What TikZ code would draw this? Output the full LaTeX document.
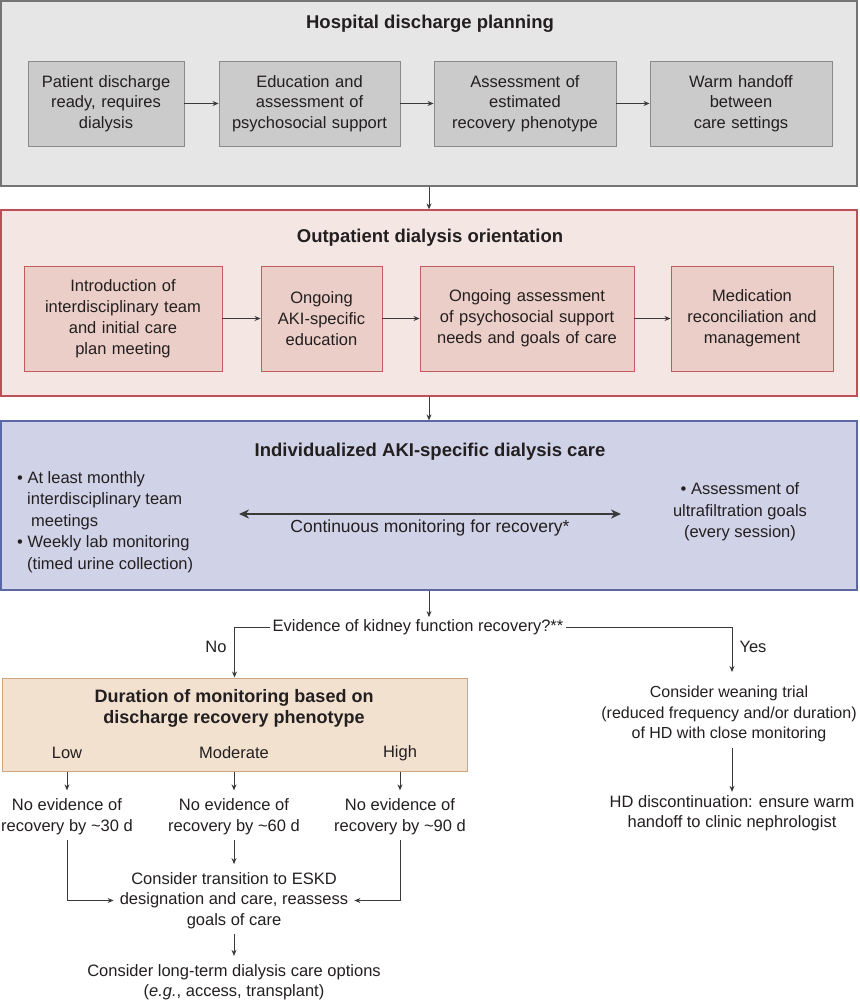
\documentclass[tikz,border=0pt]{standalone}
\usepackage{fontspec}
\setmainfont{Liberation Sans}
\usetikzlibrary{arrows.meta}
\definecolor{ink}{HTML}{231F20}
\definecolor{pAfill}{HTML}{E6E6E7}
\definecolor{pAdraw}{HTML}{747474}
\definecolor{bAfill}{HTML}{CBCBCC}
\definecolor{bAdraw}{HTML}{8A8A8A}
\definecolor{pBfill}{HTML}{F4E6E3}
\definecolor{pBdraw}{HTML}{BE4F58}
\definecolor{bBfill}{HTML}{EBCEC7}
\definecolor{bBdraw}{HTML}{C25A60}
\definecolor{pCfill}{HTML}{D0D2E7}
\definecolor{pCdraw}{HTML}{5B68A5}
\definecolor{oBfill}{HTML}{F3E1CF}
\definecolor{oBdraw}{HTML}{CFA47B}
\definecolor{lineC}{HTML}{3A3A3A}
\begin{document}
\begin{tikzpicture}[x=1pt,y=-1pt,
  txt/.style={font=\fontsize{16.5pt}{20.5pt}\selectfont, text=ink, align=center, inner sep=5pt},
  ttl/.style={font=\fontsize{18.5pt}{21pt}\selectfont\bfseries, text=ink, align=center, inner sep=2pt},
  panel/.style={line width=1.3pt, inner sep=0pt},
  boxA/.style={txt, draw=bAdraw, fill=bAfill, line width=0.9pt, minimum height=85pt, inner sep=2pt},
  boxB/.style={font=\fontsize{16.5pt}{21pt}\selectfont, text=ink, align=center, draw=bBdraw, fill=bBfill, line width=0.9pt, minimum height=105pt, inner sep=2pt},
  arr/.style={draw=lineC, line width=0.9pt, -{Stealth[length=6pt,width=5pt]}},
  darr/.style={draw=lineC, line width=2pt, {Stealth[length=10pt,width=9pt]}-{Stealth[length=10pt,width=9pt]}}
]
\useasboundingbox (0,0) rectangle (859,1000);

% ---------- Panel 1
\node[panel, draw=pAdraw, fill=pAfill, minimum width=856pt, minimum height=185pt] (p1) at (429,93.5) {};
\node[ttl] (t1) at (430,24) {Hospital discharge planning};
\node[boxA, minimum width=156pt, text width=150pt] (a1) at (106,103.5) {Patient discharge\\ready, requires\\dialysis};
\node[boxA, minimum width=181pt, text width=175pt] (a2) at (309.5,103.5) {Education and\\assessment of\\psychosocial support};
\node[boxA, minimum width=182pt, text width=176pt] (a3) at (525,103.5) {Assessment of\\estimated\\recovery phenotype};
\node[boxA, minimum width=182pt, text width=176pt] (a4) at (741,103.5) {Warm handoff\\between\\care settings};
\draw[arr] (a1) -- (a2);
\draw[arr] (a2) -- (a3);
\draw[arr] (a3) -- (a4);

% ---------- Panel 2
\node[panel, draw=pBdraw, fill=pBfill, minimum width=856pt, minimum height=186pt] (p2) at (429,303) {};
\node[ttl] (t2) at (430,238) {Outpatient dialysis orientation};
\node[boxB, minimum width=198pt, text width=192pt] (c1) at (123,318.5) {Introduction of\\interdisciplinary team\\and initial care\\plan meeting};
\node[boxB, minimum width=121pt, text width=115pt] (c2) at (321.5,318.5) {Ongoing\\AKI-specific\\education};
\node[boxB, minimum width=214pt, text width=208pt] (c3) at (527,318.5) {Ongoing assessment\\of psychosocial support\\needs and goals of care};
\node[boxB, minimum width=162pt, text width=156pt] (c4) at (752,318.5) {Medication\\reconciliation and\\management};
\draw[arr] (c1) -- (c2);
\draw[arr] (c2) -- (c3);
\draw[arr] (c3) -- (c4);

\draw[arr] (p1.south) -- (p2.north);

% ---------- Panel 3
\node[panel, draw=pCdraw, fill=pCfill, minimum width=856pt, minimum height=169pt] (p3) at (429,505.5) {};
\node[ttl] (t3) at (430,452) {Individualized AKI-specific dialysis care};
\node[txt, font=\fontsize{16.5pt}{21.5pt}\selectfont, align=left, anchor=west, inner sep=0pt] (bl) at (17,522)
  {• At least monthly\\\hspace*{10pt}interdisciplinary team\\\hspace*{14pt}meetings\\• Weekly lab monitoring\\\hspace*{10pt}(timed urine collection)};
\node[txt, font=\fontsize{16.5pt}{21.5pt}\selectfont] (rl) at (740,512) {• Assessment of\\ultrafiltration goals\\(every session)};
\coordinate (dl) at (239,514);
\coordinate (dr) at (621,514);
\draw[darr] (dl) -- (dr);
\node[txt, font=\fontsize{17.5pt}{21pt}\selectfont, inner sep=2pt] (cm) at (430,528) {Continuous monitoring for recovery*};

\draw[arr] (p2.south) -- (p3.north);

% ---------- Decision
\node[txt, inner sep=2pt] (q) at (418,627) {Evidence of kidney function recovery?**};
\draw[arr] (p3.south) -- (p3.south |- q.north);

\node[panel, draw=oBdraw, fill=oBfill, line width=1pt, minimum width=465pt, minimum height=93pt] (ob) at (234.5,724.5) {};
\node[ttl, font=\fontsize{18pt}{21pt}\selectfont\bfseries] (obt) at (234,708.5) {Duration of monitoring based on\\discharge recovery phenotype};
\node[txt, inner sep=0pt] (lo) at (67,753) {Low};
\node[txt, inner sep=0pt] (mo) at (234,753) {Moderate};
\node[txt, inner sep=0pt] (hi) at (400,753) {High};

\draw[arr] (q.west) -| (ob.north);
\node[txt, inner sep=0pt] (no) at (216,647) {No};

\coordinate (yesend) at (732,672);
\draw[arr] (q.east) -| (yesend);
\node[txt, inner sep=0pt] (yes) at (753,647) {Yes};

% ---------- No branch
\node[txt] (n1) at (67,816.5) {No evidence of\\recovery by \textasciitilde30 d};
\node[txt] (n2) at (234,816.5) {No evidence of\\recovery by \textasciitilde60 d};
\node[txt] (n3) at (400,816.5) {No evidence of\\recovery by \textasciitilde90 d};
\draw[arr, shorten >=3pt] (lo |- ob.south) -- (n1.north);
\draw[arr, shorten >=3pt] (mo |- ob.south) -- (n2.north);
\draw[arr, shorten >=3pt] (hi |- ob.south) -- (n3.north);

\node[txt] (tr) at (234,900.5) {Consider transition to ESKD\\designation and care, reassess\\goals of care};
\draw[arr, shorten >=3pt] (n2.south) -- (tr.north);
\draw[arr, shorten >=1pt] (n1.south) |- (tr.west);
\draw[arr, shorten >=1pt] (n3.south) |- (tr.east);

\node[txt] (lt) at (234,982) {Consider long-term dialysis care options\\(\textit{e.g.}, access, transplant)};
\draw[arr, shorten >=3pt] (tr.south) -- (lt.north);

% ---------- Yes branch
\node[txt, font=\fontsize{16pt}{20.5pt}\selectfont, inner sep=2pt] (wn) at (729,714) {Consider weaning trial\\(reduced frequency and/or duration)\\of HD with close monitoring};
\node[txt] (hd) at (732,813) {HD discontinuation: ensure warm\\handoff to clinic nephrologist};
\draw[arr, shorten >=-2pt, shorten <=4pt] (hd.north |- wn.south) -- (hd.north);
\end{tikzpicture}
\end{document}
